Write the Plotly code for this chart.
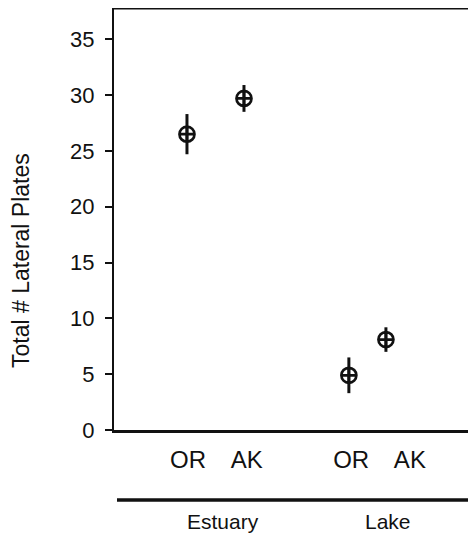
import plotly.graph_objects as go

# Data
habitats = ["Estuary", "Lake"]
populations = ["OR", "AK", "OR", "AK"]
point_x = [1.28, 2.28, 4.12, 4.77]
plate_means = [26.5, 29.7, 4.9, 8.1]
plate_err = [1.8, 1.2, 1.6, 1.1]
label_x = [1.30, 2.33, 4.16, 5.19]
y_ticks = [0, 5, 10, 15, 20, 25, 30, 35]
y_title = "Total # Lateral Plates"

FONT = "Liberation Sans, Arial, sans-serif"
INK = "#111111"

# page body has an 8px margin, so the figure is drawn 8px smaller
W, H = 468, 527
L, T, B = 106, 0, 105
PW = W - L
PH = H - T - B

fig = go.Figure()
fig.add_trace(go.Scatter(
    x=point_x, y=plate_means, mode="markers",
    marker=dict(symbol="circle-cross-open", size=15, color=INK,
                line=dict(width=2.7, color=INK)),
    error_y=dict(type="data", array=plate_err, visible=True,
                 width=0, thickness=3, color=INK),
    showlegend=False, hoverinfo="skip",
))

fig.update_layout(
    width=W, height=H,
    margin=dict(l=L, r=0, t=T, b=B),
    paper_bgcolor="white", plot_bgcolor="white",
    font=dict(family=FONT, color=INK),
    xaxis=dict(range=[0, 6.35], showgrid=False, zeroline=False,
               showline=True, linecolor=INK, linewidth=2.5,
               tickvals=label_x, ticktext=populations, ticks="",
               tickfont=dict(size=24, color=INK), ticklabelstandoff=6),
    yaxis=dict(range=[0, 37.8], showgrid=False, zeroline=False,
               showline=True, linecolor=INK, linewidth=2,
               tickvals=y_ticks, ticks="outside", ticklen=7, tickwidth=2,
               tickcolor=INK, tickfont=dict(size=22, color=INK),
               ticklabelstandoff=6),
)

# y-axis title (sits below the plot's centre in the reference)
fig.add_annotation(text=y_title, xref="paper", yref="paper",
                   x=(13 - L) / PW, y=(430 - 261) / PH, textangle=-90,
                   showarrow=False, xanchor="center", yanchor="middle",
                   font=dict(size=23, color=INK))

# top border line
fig.add_shape(type="line", xref="paper", yref="paper",
              x0=0, x1=1, y0=1, y1=1, line=dict(color=INK, width=3))
# habitat group line (window y ~500)
gy = (430 - 500) / PH
fig.add_shape(type="line", xref="paper", yref="paper",
              x0=3 / PW, x1=356 / PW, y0=gy, y1=gy,
              line=dict(color=INK, width=3.5))
ly = (430 - 521) / PH
for name, xc in zip(habitats, [223, 388]):
    fig.add_annotation(text=name, xref="paper", yref="paper",
                       x=(xc - 114) / PW, y=ly, showarrow=False,
                       xanchor="center", yanchor="middle",
                       font=dict(size=21, color=INK))

fig.write_html("out.html")
